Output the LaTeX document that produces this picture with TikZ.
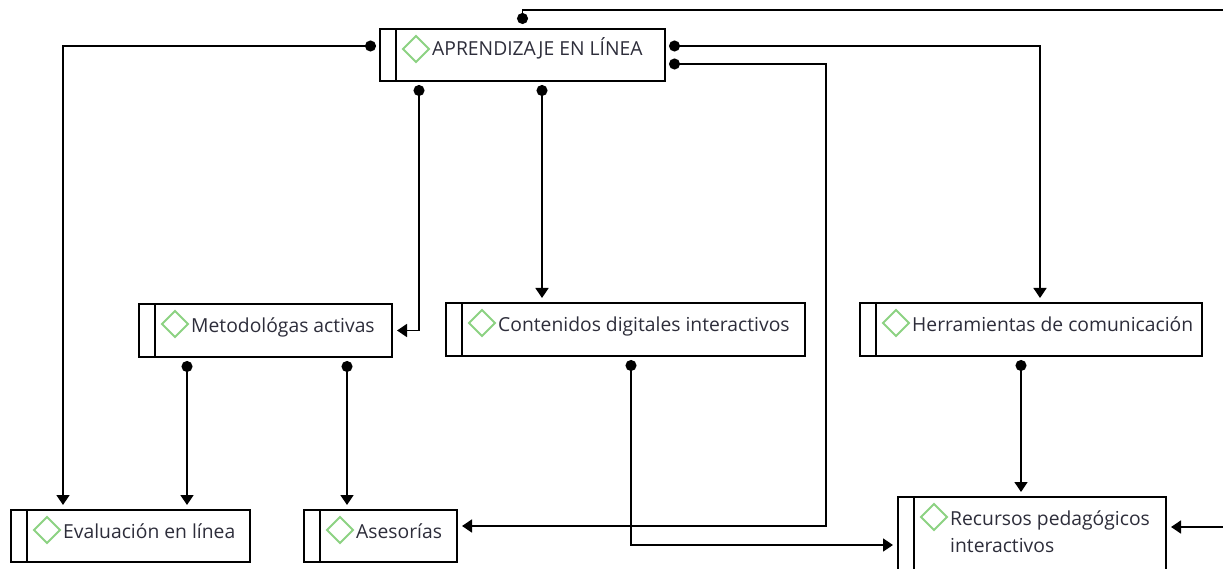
\documentclass[tikz,border=0pt]{standalone}
\usepackage{fontspec}
\setmainfont{Open Sans}
\usetikzlibrary{arrows.meta}
\definecolor{boxtext}{RGB}{45,45,58}
\definecolor{diagreen}{RGB}{140,210,130}

\begin{document}
\begin{tikzpicture}[x=1pt,y=-1pt,
        box/.style={draw, line width=1.5pt, anchor=north west, inner sep=0pt, outer sep=0pt,
            path picture={
                \draw[line width=1.5pt] ([xshift=16pt]path picture bounding box.north west) -- ([xshift=16pt]path picture bounding box.south west);
                \draw[diagreen, line width=2pt] ([xshift=23pt,yshift=-20pt]path picture bounding box.north west) -- ++(13pt,13pt) -- ++(13pt,-13pt) -- ++(-13pt,-13pt) -- cycle;
            }},
        lbl/.style={anchor=base west, inner sep=0pt, text=boxtext, align=left,
            font=\fontsize{19.3}{27}\selectfont},
        link/.style={line width=1.5pt, {Circle[length=11pt]}-{Triangle[width=13pt,length=10pt]}, shorten <=4pt, shorten >=5pt},
        feed/.style={line width=1.5pt, -{Circle[length=11pt]}, shorten >=5pt},
        arr/.style={line width=1.5pt, -{Triangle[width=13pt,length=10pt]}, shorten >=5pt}]

    \useasboundingbox (0,0) rectangle (1223,569);

    % boxes
    \node[box, minimum width=285pt, minimum height=52pt] (apr) at (380,29) {};
    \node[box, minimum width=253pt, minimum height=53pt] (met) at (139,304) {};
    \node[box, minimum width=359pt, minimum height=53pt] (cont) at (446,303) {};
    \node[box, minimum width=342pt, minimum height=53pt] (herr) at (860,303) {};
    \node[box, minimum width=239pt, minimum height=52pt] (eval) at (11,510) {};
    \node[box, minimum width=153pt, minimum height=52pt] (ases) at (304,510) {};
    \node[box, minimum width=268pt, minimum height=80pt] (rec) at (898,497) {};

    % texts
    \node[lbl] (aprT) at ([xshift=52pt,yshift=-27pt]apr.north west) {APRENDIZAJE EN LÍNEA};
    \node[lbl] (metT) at ([xshift=52pt,yshift=-28pt]met.north west) {Metodológas activas};
    \node[lbl] (contT) at ([xshift=52pt,yshift=-28pt]cont.north west) {Contenidos digitales interactivos};
    \node[lbl] (herrT) at ([xshift=52pt,yshift=-28pt]herr.north west) {Herramientas de comunicación};
    \node[lbl] (evalT) at ([xshift=52pt,yshift=-28pt]eval.north west) {Evaluación en línea};
    \node[lbl] (asesT) at ([xshift=52pt,yshift=-28pt]ases.north west) {Asesorías};
    \node[lbl] (recT) at ([xshift=52pt,yshift=-55pt]rec.north west) {Recursos pedagógicos\\interactivos};

    % free ends
    \coordinate (outTop) at (1223,10);
    \coordinate (inRec) at (1223,527);

    % connectors
    \draw[feed] (outTop) -| (apr.north);
    \draw[link] ([yshift=9pt]apr.west) -| ([xshift=52pt]eval.north west);
    \draw[link] ([xshift=39pt]apr.south west) |- (met.east);
    \draw[link] ([xshift=162pt]apr.south west) -- ([xshift=96pt]cont.north west);
    \draw[link] ([yshift=9pt]apr.east) -| ([xshift=180pt]herr.north west);
    \draw[link] ([yshift=-9pt]apr.east) -- ++(161pt,0) |- ([yshift=10pt]ases.east);
    \draw[link] ([xshift=48pt]met.south west) -- ([xshift=176pt]eval.north west);
    \draw[link] ([xshift=208pt]met.south west) -- ([xshift=43pt]ases.north west);
    \draw[link] ([xshift=185pt]cont.south west) |- ([yshift=-8pt]rec.west);
    \draw[link] ([xshift=161pt]herr.south west) -- ([xshift=123pt]rec.north west);
    \draw[arr] (inRec) -- ([yshift=10pt]rec.east);
\end{tikzpicture}
\end{document}
